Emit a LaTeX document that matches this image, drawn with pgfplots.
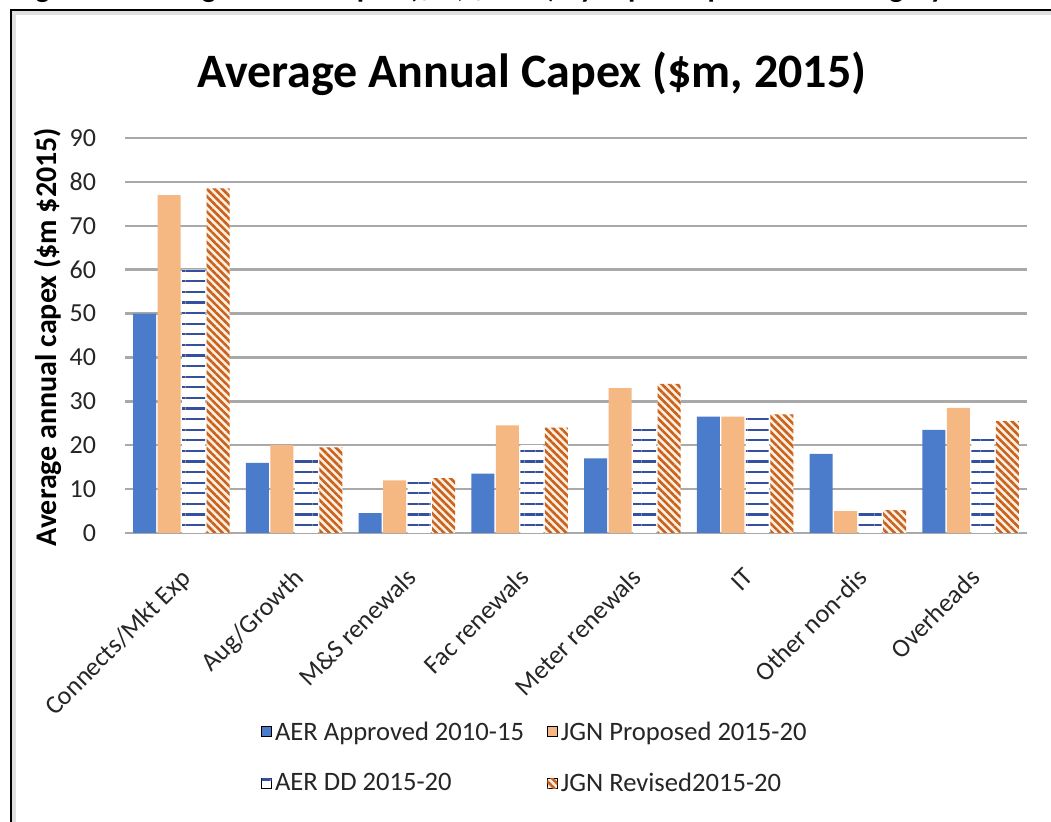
\documentclass[border=0pt]{standalone}
\usepackage{pgfplots}
\pgfplotsset{compat=1.18}
\usepackage{fontspec}
\setmainfont{Carlito}
\usetikzlibrary{patterns.meta}
\definecolor{cblue}{HTML}{4A7CCB}
\definecolor{corange}{HTML}{F6B882}
\definecolor{cnavy}{HTML}{34509F}
\definecolor{cstripe}{HTML}{C8621C}
\definecolor{cstripebg}{HTML}{FDF0E2}
\definecolor{cgrid}{HTML}{A9A9A9}
\definecolor{ctext}{HTML}{262626}
\pgfplotstableread{
x a b c d
0 50   77   60   78.5
1 16   20   17   19.5
2 4.5  12   12   12.5
3 13.5 24.5 20   24
4 17   33   24.5 34
5 26.5 26.5 26.5 27
6 18   5    5    5.2
7 23.5 28.5 22   25.5
}\capex
\begin{document}
\begin{tikzpicture}
\useasboundingbox (0,0) rectangle (525.5pt,411pt);
\fill[white] (0,0) rectangle (525.5pt,411pt);
\begin{axis}[
  at={(62.5pt,144.5pt)}, anchor=south west,
  scale only axis, width=451pt, height=197.5pt,
  xmin=-0.5, xmax=7.5, ymin=0, ymax=90,
  ybar=0.75pt, bar width=11.5pt,
  xtick={0,...,7},
  xticklabels={Connects/Mkt Exp,Aug/Growth,M\&S renewals,Fac renewals,Meter renewals,IT,Other non-dis,Overheads},
  ytick={0,10,...,90},
  ymajorgrids, grid style={cgrid, line width=1.2pt},
  axis x line*=bottom, axis y line*=left,
  x axis line style={cgrid, line width=1.2pt, -},
  y axis line style={draw=none},
  major tick length=0pt,
  /pgf/number format/assume math mode=true,
  yticklabel style={font=\fontsize{13}{13}\selectfont, text=ctext, xshift=-11pt},
  xticklabel style={font=\fontsize{13}{13}\selectfont, text=ctext, xshift=-1pt, yshift=-12pt, rotate=45, anchor=north east},
  ylabel={Average annual capex (\$m \$2015)},
  ylabel style={font=\bfseries\fontsize{15}{15}\selectfont, at={(axis description cs:-0.085,0.496)}, anchor=center},
  title={Average Annual Capex (\$m, 2015)},
  title style={font=\bfseries\fontsize{24}{24}\selectfont, at={(axis description cs:0.451,1.132)}, anchor=center},
  legend columns=2,
  legend cell align=left,
  legend image code/.code={\draw[#1] (0pt,-2.2pt) rectangle (5pt,2.8pt);},
  legend style={draw=none, fill=none, at={(axis description cs:0.455,-0.57)}, anchor=center,
    font=\fontsize{13.3}{13.3}\selectfont, text=ctext, /tikz/row sep=11pt,
    nodes={inner xsep=1.5pt},
    /tikz/every even column/.append style={column sep=10pt}},
]
\addplot[draw=none, fill=cblue] table[x=x,y=a] {\capex};
\addplot[draw=none, fill=corange] table[x=x,y=b] {\capex};
\addplot[draw=none, fill=white, postaction={pattern={Lines[angle=0,distance=5.3pt,line width=1.1pt]}, pattern color=cnavy}] table[x=x,y=c] {\capex};
\addplot[draw=none, fill=cstripebg, postaction={pattern={Lines[angle=-45,distance=2.7pt,line width=1.3pt]}, pattern color=cstripe}] table[x=x,y=d] {\capex};
\legend{AER Approved 2010-15,JGN Proposed 2015-20,AER DD 2015-20,JGN Revised2015-20}
\end{axis}
\begin{scope}
\clip (0,0) rectangle (525.5pt,411pt);
\node[anchor=base west, inner sep=0pt, font=\bfseries\fontsize{15}{15}\selectfont] at (7pt,412.2pt) {Figure 1: Average annual capex (\$m, \$2015) by capex expenditure category};
\end{scope}
\draw[gray!25, line width=2pt] (7pt,0) -- (7pt,404.5pt) -- (525.5pt,404.5pt);
\draw[black, line width=1.4pt] (5.5pt,0) -- (5.5pt,406pt) -- (525.5pt,406pt);
\end{tikzpicture}
\end{document}
